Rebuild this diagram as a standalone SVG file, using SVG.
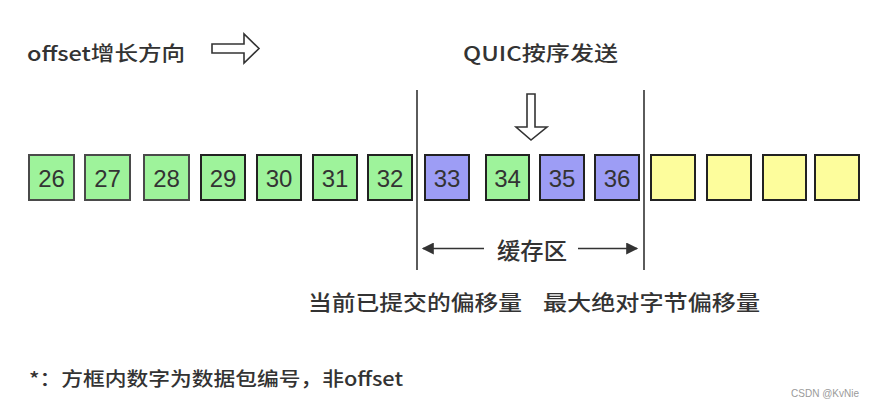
<svg xmlns="http://www.w3.org/2000/svg" width="874" height="406" viewBox="0 0 874 406">
<defs>
<style>
.cjk{font-family:"Noto Sans CJK SC","Liberation Sans",sans-serif;fill:#333;font-weight:500;}
.num{font-family:"Liberation Sans",Arial,sans-serif;font-size:24px;fill:#333;text-anchor:middle;}
.g{fill:#9ef39b;}
.p{fill:#9d9df5;}
.y{fill:#fdfd9c;}
.b{stroke:#222;stroke-width:2;}
.bl{stroke:#4a4a4a;stroke-width:2;}
.hollow{fill:#fff;stroke:#333;stroke-width:1.6;stroke-linejoin:miter;}
.ln{stroke:#333;stroke-width:1.6;fill:none;}
</style>
<marker id="ah" viewBox="0 0 10 10" refX="9" refY="5" markerWidth="16" markerHeight="12" markerUnits="userSpaceOnUse" orient="auto">
<path d="M0,0 L10,5 L0,10 Z" fill="#333"/>
</marker>
</defs>

<text class="cjk" x="27" y="61" font-size="20" textLength="158" lengthAdjust="spacingAndGlyphs">offset增长方向</text>
<text class="cjk" x="463" y="61" font-size="20" textLength="155" lengthAdjust="spacingAndGlyphs">QUIC按序发送</text>

<g id="arrow-right-hollow">
<path class="hollow" d="M212,44 L244,44 L244,34 L259,48.5 L244,63 L244,53 L212,53 Z"/>
</g>
<g id="arrow-down-hollow">
<path class="hollow" d="M527,94 L535,94 L535,127 L547,127 L531,140 L516,127 L527,127 Z"/>
</g>

<g id="boxes">
<g id="b26"><rect class="g bl" x="29" y="155" width="45" height="45"/><text class="num" x="51.5" y="187">26</text></g>
<g id="b27"><rect class="g bl" x="85" y="155" width="45" height="45"/><text class="num" x="107.5" y="187">27</text></g>
<g id="b28"><rect class="g bl" x="144" y="155" width="45" height="45"/><text class="num" x="166.5" y="187">28</text></g>
<g id="b29"><rect class="g b" x="201" y="155" width="44" height="45"/><text class="num" x="223" y="187">29</text></g>
<g id="b30"><rect class="g b" x="257" y="155" width="44" height="45"/><text class="num" x="279" y="187">30</text></g>
<g id="b31"><rect class="g b" x="313" y="155" width="44" height="45"/><text class="num" x="335" y="187">31</text></g>
<g id="b32"><rect class="g b" x="368" y="155" width="44" height="45"/><text class="num" x="390" y="187">32</text></g>
<g id="b33"><rect class="p b" x="425" y="155" width="44" height="45"/><text class="num" x="447" y="187">33</text></g>
<g id="b34"><rect class="g b" x="486" y="155" width="43" height="45"/><text class="num" x="507.5" y="187">34</text></g>
<g id="b35"><rect class="p b" x="540" y="155" width="44" height="45"/><text class="num" x="562" y="187">35</text></g>
<g id="b36"><rect class="p b" x="595" y="155" width="44" height="45"/><text class="num" x="617" y="187">36</text></g>
<g id="y1"><rect class="y b" x="651" y="155" width="44" height="45"/></g>
<g id="y2"><rect class="y b" x="707" y="155" width="44" height="45"/></g>
<g id="y3"><rect class="y b" x="763" y="155" width="43" height="45"/></g>
<g id="y4"><rect class="y b" x="815" y="155" width="44" height="45"/></g>
</g>

<g id="connectors">
<line class="ln" x1="417" y1="90" x2="417" y2="270"/>
<line class="ln" x1="644" y1="90" x2="644" y2="270"/>
<line class="ln" x1="484" y1="248.5" x2="423" y2="248.5" stroke-width="2" marker-end="url(#ah)"/>
<line class="ln" x1="578" y1="248.5" x2="637" y2="248.5" stroke-width="2" marker-end="url(#ah)"/>
</g>

<text class="cjk" x="497" y="259" font-size="23" textLength="70" lengthAdjust="spacingAndGlyphs">缓存区</text>
<text class="cjk" x="308" y="310" font-size="21" textLength="214" lengthAdjust="spacingAndGlyphs">当前已提交的偏移量</text>
<text class="cjk" x="543" y="310" font-size="21" textLength="217" lengthAdjust="spacingAndGlyphs">最大绝对字节偏移量</text>
<text class="cjk" x="29" y="386" font-size="19" textLength="374" lengthAdjust="spacingAndGlyphs">*：方框内数字为数据包编号，非offset</text>
<text x="791" y="397" font-family="'Liberation Sans Narrow','Liberation Sans',sans-serif" font-size="11" fill="#9a9a9a" textLength="68" lengthAdjust="spacingAndGlyphs">CSDN @KvNie</text>
</svg>
